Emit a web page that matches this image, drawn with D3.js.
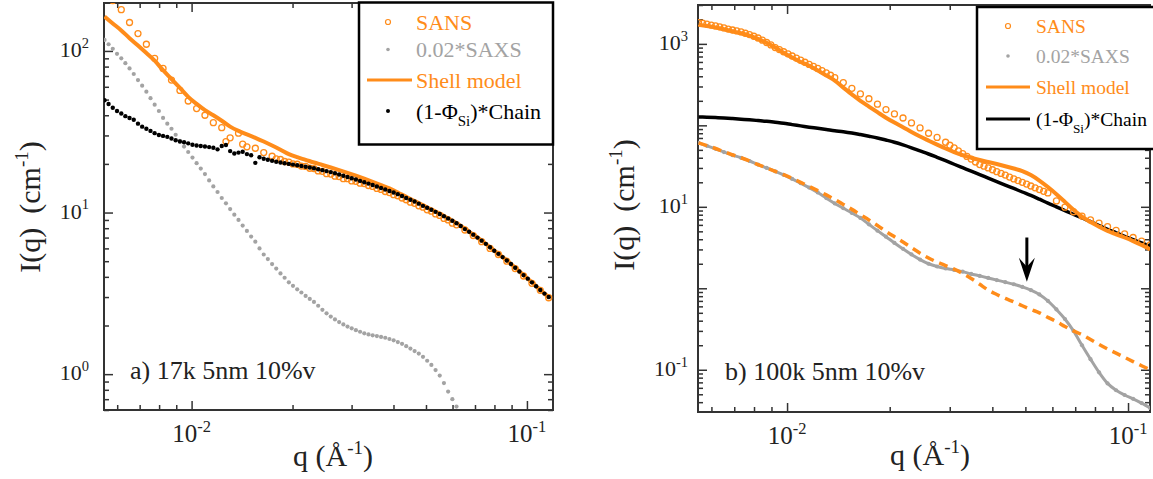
<!DOCTYPE html>
<html>
<head>
<meta charset="utf-8">
<script src="https://d3js.org/d3.v7.min.js"></script>
<style>
  body { margin: 0; background: #fff; }
  svg, text, tspan { font-family: "Liberation Serif", "Times New Roman", serif; }
</style>
</head>
<body>
<div id="chart"></div>
<script>

// q values (A^-1) shared by every curve of both panels
var qValues = [
  0.00550, 0.00582, 0.00617, 0.00653, 0.00692, 0.00733, 0.00776, 0.00822, 0.00871, 0.00923,
  0.00977, 0.01035, 0.01096, 0.01161, 0.01230, 0.01303, 0.01380, 0.01462, 0.01549, 0.01641,
  0.01738, 0.01841, 0.01950, 0.02065, 0.02188, 0.02317, 0.02455, 0.02600, 0.02754, 0.02917,
  0.03090, 0.03273, 0.03467, 0.03673, 0.03890, 0.04121, 0.04365, 0.04624, 0.04898, 0.05188,
  0.05495, 0.05821, 0.06166, 0.06531, 0.06918, 0.07328, 0.07762, 0.08222, 0.08710, 0.09226,
  0.09772, 0.1035, 0.1096, 0.1161
];
// extra q points of the densely sampled scatter sets (between the ones above)
var qMid = [
  0.005655, 0.005992, 0.006346, 0.006722, 0.007121, 0.007542, 0.007989, 0.008463, 0.008964, 0.009495,
  0.01006, 0.01065, 0.01128, 0.01195, 0.01266, 0.01341, 0.01420, 0.01505, 0.01594, 0.01688,
  0.01788, 0.01894, 0.02006, 0.02125, 0.02251, 0.02385, 0.02526, 0.02676, 0.02835, 0.03002,
  0.03180, 0.03369, 0.03569, 0.03780, 0.04004, 0.04242, 0.04493, 0.04759, 0.05041, 0.05340,
  0.05656, 0.05992, 0.06347, 0.06723, 0.07121, 0.07543, 0.07990, 0.08463, 0.08964, 0.09495,
  0.1006, 0.1065, 0.1128
];

// panel a) 17k 5nm 10%v
var sansA = [
  235, 205, 180, 150, 128, 110, 90, 78, 66, 57,
  49, 44, 40, 36, 33.5, 29, 31, 25.5, 25, 23.5,
  22.3, 21.3, 20.5, 19.9, 19.3, 18.7, 18.0, 17.3, 16.7, 16.2,
  15.6, 15.1, 14.5, 13.9, 13.3, 12.7, 12.0, 11.4, 10.8, 10.2,
  9.6, 9.0, 8.4, 7.8, 7.2, 6.6, 6.0, 5.5, 5.0, 4.5,
  4.05, 3.65, 3.3, 2.97
];
var sansAMid = [
  null, null, null, null, null, null, null, null, null, null,
  null, null, null, null, 27.5, null, 26.5, null, null, null,
  21.5, 20.7, 20.0, 19.4, 18.8, 18.1, 17.4, 16.8, 16.2, 15.7,
  15.2, 14.7, 14.1, 13.5, 12.9, 12.3, 11.6, 11.0, 10.4, 9.8,
  9.2, 8.6
];
var saxsA = [
  117, 103, 90, 78, 66, 56, 46.5, 38.5, 33, 27.8,
  23.7, 20.2, 17.3, 14.5, 12.3, 10.5, 9.0, 7.7, 6.6, 5.5,
  4.8, 4.2, 3.7, 3.35, 3.05, 2.8, 2.5, 2.27, 2.1, 1.97,
  1.87, 1.79, 1.74, 1.70, 1.65, 1.58, 1.49, 1.39, 1.28, 1.14,
  0.98, 0.78, 0.63, 0.50
];
var saxsAMid = [
  110, 96, 84, 72, 61, 51, 42.5, 35.5, 30.3, 25.6,
  21.9, 18.7, 15.8, 13.4, 11.4, 9.7, 8.3, 7.1, 6.0, 5.15,
  4.5, 3.95, 3.52, 3.2, 2.92, 2.65, 2.38, 2.18, 2.03, 1.92,
  1.83, 1.76, 1.72, 1.68, 1.62, 1.54, 1.44, 1.34, 1.21, 1.06,
  0.88, 0.70, 0.56
];
var shellA = [
  163, 148, 134, 120, 108, 97, 87, 76, 67, 59,
  52, 47, 43, 40, 37, 34, 32, 30.5, 29, 27.5,
  26, 24.5, 23.0, 22.0, 21.2, 20.4, 19.7, 19.0, 18.3, 17.6,
  16.9, 16.2, 15.5, 14.8, 14.1, 13.3, 12.5, 11.8, 11.1, 10.45,
  9.85, 9.2, 8.6, 7.95, 7.3, 6.7, 6.1, 5.55, 5.05, 4.55,
  4.1, 3.7, 3.32, 3.0
];
var chainA = [
  49.5, 44.5, 41, 38.5, 35.5, 33, 31, 29.8, 28.7, 27.5,
  26.8, 26.0, 25.6, 25.2, 25.8, 24.0, 23.5, 23.0, 20.3, 21.5,
  20.9, 20.4, 20.0, 19.6, 19.2, 18.8, 18.3, 17.8, 17.2, 16.6,
  16.0, 15.4, 14.8, 14.2, 13.6, 13.0, 12.3, 11.7, 11.0, 10.4,
  9.8, 9.2, 8.6, 7.9, 7.3, 6.7, 6.1, 5.55, 5.05, 4.55,
  4.1, 3.7, 3.32, 3.0
];
var chainAMid = [
  47, 42.5, 39.5, 37.5, 34, 32, 30.2, 29.4, 28.0, 27.2,
  26.3, 25.8, 25.4, 24.6, 26.2, 23.2, 23.8, 22.6, 22.0, 21.2,
  20.6, 20.2, 19.8, 19.4, 19.0, 18.55, 18.05, 17.5, 16.9, 16.3,
  15.7, 15.1, 14.5, 13.9, 13.3, 12.65, 12.0, 11.35, 10.7, 10.1,
  9.5, 8.9, 8.25, 7.6, 7.0, 6.4, 5.8, 5.3, 4.8, 4.32,
  3.9, 3.5, 3.15
];

// panel b) 100k 5nm 10%v
var sansB = [
  1820, 1750, 1660, 1570, 1480, 1400, 1300, 1180, 1040, 900,
  800, 710, 630, 560, 500, 440, 385, 335, 285, 243,
  212, 182, 156, 138, 123, 107, 93, 80, 71, 62,
  53, 45, 38.5, 33, 30, 27, 24.5, 22, 20, 18,
  16.3, 14.8, 11.8, 9.9, 8.7, 7.7, 6.9, 6.3, 5.7, 5.15,
  4.65, 4.2, 3.8, 3.4
];
var sansBMid = [
  1790, 1700, 1620, 1520, 1440, 1350, 1240, 1110, 970, 850,
  755, 670, 595, 530, 470, 412, null, null, null, null,
  null, null, null, null, null, null, null, null, null, 57,
  48.5, 41.5, 35.5, 31.5, 28.5, 25.7, 23.2, 21, 19, 17.1,
  15.5
];
var saxsB = [
  61, 56, 51.5, 47, 43, 40, 36.5, 33, 30, 27.3,
  24.7, 22, 19.5, 17.2, 15.0, 12.8, 11.0, 9.6, 8.4, 7.3,
  6.1, 5.1, 4.3, 3.6, 3.05, 2.6, 2.25, 2.0, 1.85, 1.75,
  1.68, 1.6, 1.5, 1.42, 1.34, 1.26, 1.19, 1.12, 1.04, 0.95,
  0.84, 0.70, 0.55, 0.42, 0.30, 0.20, 0.135, 0.093, 0.068, 0.056,
  0.049, 0.044, 0.039, 0.034
];
var shellB = [
  1720, 1660, 1590, 1510, 1430, 1350, 1260, 1150, 1030, 900,
  780, 680, 600, 540, 470, 410, 355, 290, 240, 200,
  170, 145, 124, 108, 95, 83, 73, 65, 58, 52,
  47, 43, 40, 37.5, 35.5, 33.5, 31.5, 29.5, 27.5, 24.5,
  21, 17.5, 14.3, 11.5, 9.2, 7.6, 6.5, 5.7, 5.05, 4.6,
  4.2, 3.8, 3.4, 3.0
];
var shellSaxsB = [
  61, 56.5, 52, 47.5, 43.5, 40, 36.5, 33, 30, 27.3,
  24.8, 22.3, 20, 17.8, 15.8, 14, 12.3, 10.7, 9.3, 8.0,
  6.9, 5.9, 5.0, 4.3, 3.7, 3.15, 2.7, 2.35, 2.1, 1.9,
  1.72, 1.52, 1.32, 1.12, 0.95, 0.84, 0.75, 0.68, 0.61, 0.55,
  0.50, 0.44, 0.39, 0.34, 0.30, 0.27, 0.235, 0.205, 0.18, 0.16,
  0.142, 0.126, 0.112, 0.10
];
var chainB = [
  127, 126, 124.5, 123, 121, 119, 117, 114.5, 112, 109,
  106, 102, 98.5, 95, 92, 89, 86, 83.5, 80.5, 77,
  73.5, 70, 66, 62, 57.5, 53, 48.5, 44.5, 40.5, 36.8,
  33.3, 30.2, 27.4, 24.8, 22.5, 20.4, 18.5, 16.8, 15.2, 13.8,
  12.4, 11.1, 10.0, 9.0, 8.1, 7.3, 6.6, 5.9, 5.3, 4.8,
  4.35, 3.95, 3.6, 3.3
];

// axis ranges and labelled decades
var xDomainA = [0.00548, 0.1196], yDomainA = [0.60, 198];
var xDomainB = [0.00548, 0.116],  yDomainB = [0.0303, 3000];
var xLabelExpA = [-2, -1], yLabelExpA = [0, 1, 2];
var xLabelExpB = [-2, -1], yLabelExpB = [-1, 1, 3];

// arrow of panel b (q, from I, to I)
var arrowQ = 0.0505, arrowTop = 4.2, arrowTip = 1.2;

var legendNames = ["SANS", "0.02*SAXS", "Shell model", "Chain"];

var width = 1153, height = 479;
var orange = "#ff8c1a", gray = "#a3a3a3", axisColor = "#333";

var svg = d3.select("#chart")
            .append("svg")
            .attr("width", width)
            .attr("height", height)
            .attr("font-family", "Liberation Serif, serif");

function pairs(qs, values) {
  return qs.map(function (q, i) { return {q: q, I: values[i]}; })
           .filter(function (d) { return d.I != null; });
}

function isDecade(v) {
  var l = Math.log10(v);
  return Math.abs(l - Math.round(l)) < 1e-6;
}

// "10" with a raised exponent
function power(sel, exp, size) {
  sel.append("tspan").text("10");
  sel.append("tspan")
     .attr("dy", -size * 0.42)
     .attr("font-size", size * 0.66)
     .text(exp);
}

// frame, inward ticks on four sides, tick labels
function drawPanel(id, box, xDomain, yDomain, xExps, yExps, yLabelX) {
  var x = d3.scaleLog().domain(xDomain).range([box.left, box.right]);
  var y = d3.scaleLog().domain(yDomain).range([box.bottom, box.top]);

  var xMinor = x.ticks().filter(function (v) { return !isDecade(v); });
  var xMajor = x.ticks().filter(isDecade);
  var yMinor = y.ticks().filter(function (v) { return !isDecade(v); });
  var yMajor = y.ticks().filter(isDecade);

  var g = svg.append("g").attr("id", id);

  svg.append("clipPath").attr("id", id + "-clip")
     .append("rect")
     .attr("x", box.left).attr("y", box.top)
     .attr("width", box.right - box.left)
     .attr("height", box.bottom - box.top);

  var axes = [
    [d3.axisBottom(x), "translate(0," + box.bottom + ")", xMinor, xMajor],
    [d3.axisTop(x),    "translate(0," + box.top + ")",    xMinor, xMajor],
    [d3.axisLeft(y),   "translate(" + box.left + ",0)",   yMinor, yMajor],
    [d3.axisRight(y),  "translate(" + box.right + ",0)",  yMinor, yMajor]
  ];
  axes.forEach(function (a) {
    [[a[2], 5], [a[3], 9]].forEach(function (set) {
      g.append("g")
       .attr("transform", a[1])
       .attr("color", axisColor)
       .call(a[0].tickValues(set[0]).tickSize(-set[1]).tickFormat(""))
       .call(function (s) { s.select(".domain").remove(); })
       .selectAll("line").attr("stroke-width", 1.5);
    });
  });

  g.append("rect")
   .attr("x", box.left).attr("y", box.top)
   .attr("width", box.right - box.left)
   .attr("height", box.bottom - box.top)
   .attr("fill", "none")
   .attr("stroke", axisColor)
   .attr("stroke-width", 2);

  xExps.forEach(function (e) {
    var t = g.append("text")
             .attr("x", x(Math.pow(10, e)))
             .attr("y", box.bottom + 32)
             .attr("text-anchor", "middle")
             .attr("font-size", 25)
             .attr("fill", "#222");
    power(t, e, 25);
  });
  yExps.forEach(function (e) {
    var t = g.append("text")
             .attr("x", yLabelX)
             .attr("y", y(Math.pow(10, e)) + 6)
             .attr("text-anchor", "end")
             .attr("font-size", 22)
             .attr("fill", "#222");
    power(t, e, 22);
  });

  var plot = svg.append("g").attr("clip-path", "url(#" + id + "-clip)");
  return {g: g, plot: plot, x: x, y: y};
}

function drawDots(p, qs, values, r, fill) {
  p.plot.append("g").selectAll("circle")
    .data(pairs(qs, values))
    .enter()
    .append("circle")
    .attr("cx", function (d) { return p.x(d.q); })
    .attr("cy", function (d) { return p.y(d.I); })
    .attr("r", r)
    .attr("fill", fill);
}

function drawRings(p, qs, values) {
  p.plot.append("g").selectAll("circle")
    .data(pairs(qs, values))
    .enter()
    .append("circle")
    .attr("cx", function (d) { return p.x(d.q); })
    .attr("cy", function (d) { return p.y(d.I); })
    .attr("r", 3)
    .attr("fill", "none")
    .attr("stroke", orange)
    .attr("stroke-width", 1.3);
}

function drawLine(p, values, color, w, dash) {
  var line = d3.line()
               .x(function (d) { return p.x(d.q); })
               .y(function (d) { return p.y(d.I); })
               .curve(d3.curveMonotoneX);
  p.plot.append("path")
    .datum(pairs(qValues, values))
    .attr("d", line)
    .attr("fill", "none")
    .attr("stroke", color)
    .attr("stroke-width", w)
    .attr("stroke-dasharray", dash || null)
    .attr("stroke-linejoin", "round");
}

// axis titles with superscripts
function titleY(cx, cy) {
  var t = svg.append("text")
             .attr("transform", "translate(" + cx + "," + cy + ") rotate(-90)")
             .attr("text-anchor", "middle")
             .attr("font-size", 30)
             .attr("fill", "#222");
  t.append("tspan").text("I(q)");
  t.append("tspan").attr("dx", 14).text("(cm");
  t.append("tspan").attr("dy", -12).attr("font-size", 19).text("-1");
  t.append("tspan").attr("dy", 12).text(")");
}
function titleX(cx, cy) {
  var t = svg.append("text")
             .attr("x", cx).attr("y", cy)
             .attr("text-anchor", "middle")
             .attr("font-size", 30)
             .attr("fill", "#222");
  t.append("tspan").text("q (Å");
  t.append("tspan").attr("dy", -12).attr("font-size", 19).text("-1");
  t.append("tspan").attr("dy", 12).text(")");
}

function drawLegend(lg) {
  var g = svg.append("g");
  g.append("rect")
   .attr("x", lg.x).attr("y", lg.y)
   .attr("width", lg.w).attr("height", lg.h)
   .attr("fill", "#fff")
   .attr("stroke", "#000")
   .attr("stroke-width", 2.5);

  var colors = [orange, gray, orange, "#000"];
  lg.rows.forEach(function (ry, i) {
    var t = g.append("text")
             .attr("x", lg.textX).attr("y", ry + lg.size * 0.35)
             .attr("font-size", lg.size)
             .attr("fill", colors[i]);
    if (i < 3) {
      t.text(legendNames[i]);
    } else {
      t.append("tspan").text("(1-\u03a6");
      t.append("tspan").attr("dy", 7).attr("font-size", lg.size * 0.68).text("Si");
      t.append("tspan").attr("dy", -7).text(")*" + legendNames[3]);
    }
  });

  // symbols
  g.append("circle").attr("cx", lg.symX).attr("cy", lg.rows[0])
   .attr("r", 2.5).attr("fill", "none").attr("stroke", orange).attr("stroke-width", 1.2);
  g.append("circle").attr("cx", lg.symX).attr("cy", lg.rows[1])
   .attr("r", 1.8).attr("fill", gray);
  g.append("line").attr("x1", lg.lineX[0]).attr("x2", lg.lineX[1])
   .attr("y1", lg.rows[2]).attr("y2", lg.rows[2])
   .attr("stroke", orange).attr("stroke-width", 3);
  if (lg.chainLine) {
    g.append("line").attr("x1", lg.lineX[0]).attr("x2", lg.lineX[1])
     .attr("y1", lg.rows[3]).attr("y2", lg.rows[3])
     .attr("stroke", "#000").attr("stroke-width", 3);
  } else {
    g.append("circle").attr("cx", lg.symX).attr("cy", lg.rows[3])
     .attr("r", 2).attr("fill", "#000");
  }
}

// ---------- panel a ----------
var pa = drawPanel("pa", {left: 104, right: 553, top: 3, bottom: 410},
                   xDomainA, yDomainA, xLabelExpA, yLabelExpA, 89);
drawDots(pa, qValues, saxsA, 2.1, gray);
drawDots(pa, qMid, saxsAMid, 2.1, gray);
drawLine(pa, shellA, orange, 4);
drawRings(pa, qValues, sansA);
drawRings(pa, qMid, sansAMid);
drawDots(pa, qValues, chainA, 2.2, "#000");
drawDots(pa, qMid, chainAMid, 2.2, "#000");

titleY(40, 207);
titleX(333, 466);
pa.g.append("text")
    .attr("x", 130).attr("y", 379)
    .attr("font-size", 26)
    .attr("fill", "#222")
    .text("a) 17k 5nm 10%v");

drawLegend({x: 359, y: 2.5, w: 194, h: 142, size: 22, textX: 416, symX: 388,
            lineX: [367, 412], rows: [22, 49.5, 80, 111], chainLine: false});

// ---------- panel b ----------
var pb = drawPanel("pb", {left: 698, right: 1150, top: 5, bottom: 412},
                   xDomainB, yDomainB, xLabelExpB, yLabelExpB, 688);
drawLine(pb, saxsB, gray, 3);
drawDots(pb, qValues, saxsB, 2.1, gray);
drawLine(pb, shellSaxsB, orange, 3.5, "9,6");
drawLine(pb, chainB, "#000", 3.5);
drawLine(pb, shellB, orange, 4);
drawRings(pb, qValues, sansB);
drawRings(pb, qMid, sansBMid);

// arrow pointing at the SAXS shoulder
var ax = pb.x(arrowQ), ay0 = pb.y(arrowTop), ay1 = pb.y(arrowTip);
pb.g.append("line")
    .attr("x1", ax).attr("x2", ax)
    .attr("y1", ay0).attr("y2", ay1 - 14)
    .attr("stroke", "#000").attr("stroke-width", 3);
pb.g.append("path")
    .attr("d", "M" + ax + "," + ay1 + " L" + (ax - 8) + "," + (ay1 - 24) +
               " L" + ax + "," + (ay1 - 15) + " L" + (ax + 8) + "," + (ay1 - 24) + "Z")
    .attr("fill", "#000");

titleY(634, 205);
titleX(930, 465);
pb.g.append("text")
    .attr("x", 725).attr("y", 380)
    .attr("font-size", 26)
    .attr("fill", "#222")
    .text("b) 100k 5nm 10%v");

drawLegend({x: 977, y: 7, w: 190, h: 142, size: 19.5, textX: 1036, symX: 1008,
            lineX: [986, 1030], rows: [26, 56, 87, 119], chainLine: true});

</script>
</body>
</html>
